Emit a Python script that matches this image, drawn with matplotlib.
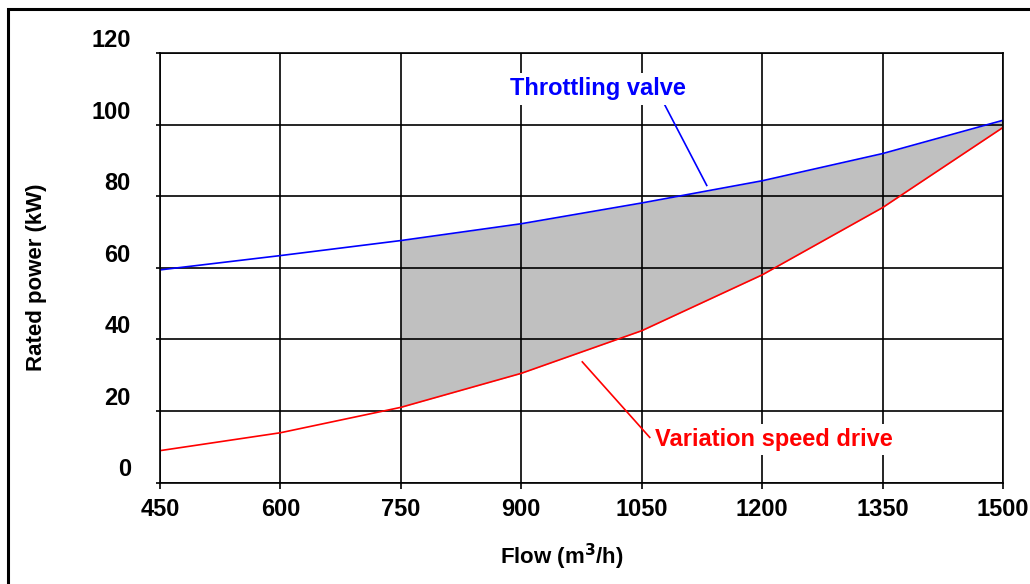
import matplotlib
matplotlib.use("Agg")
import matplotlib.pyplot as plt
import matplotlib.transforms as mtransforms
from matplotlib.patches import Rectangle

# ====== DATA ======
flow = [450, 600, 750, 900, 1050, 1200, 1350, 1500]           # m3/h
throttling = [59.4, 63.4, 67.6, 72.3, 78.1, 84.3, 91.9, 101.2]  # kW
vsd = [8.9, 13.9, 21.0, 30.5, 42.4, 58.0, 76.8, 99.2]           # kW

shade_from = 750  # savings area starts here

x_ticks = [450, 600, 750, 900, 1050, 1200, 1350, 1500]
y_ticks = [0, 20, 40, 60, 80, 100, 120]

# label text + leader line (data coords)
tv_label = "Throttling valve"
tv_text_xy = (886, 110)
tv_leader_x = [1078, 1131]
tv_leader_y = [105.8, 83.0]

vsd_label = "Variation speed drive"
vsd_text_xy = (1067, 12.0)
vsd_leader_x = [976, 1060]
vsd_leader_y = [33.7, 12.6]

FONT = "Liberation Sans"
plt.rcParams["font.family"] = [FONT, "DejaVu Sans"]

fig = plt.figure(figsize=(10.30, 5.84), dpi=100)
ax = fig.add_axes([160 / 1030, 1 - 482.5 / 584, 843 / 1030, 429.5 / 584])

# shaded savings area between the two curves
xs = [x for x in flow if x >= shade_from]
top = [t for x, t in zip(flow, throttling) if x >= shade_from]
bot = [v for x, v in zip(flow, vsd) if x >= shade_from]
ax.fill_between(xs, bot, top, color="#c0c0c0", lw=0, zorder=1)

ax.plot(flow, throttling, color="#0000ff", lw=1.2, zorder=3)
ax.plot(flow, vsd, color="#ff0000", lw=1.2, zorder=3)

ax.set_xlim(450, 1500)
ax.set_ylim(0, 120)
ax.set_xticks(x_ticks)
ax.set_yticks(y_ticks)
ax.grid(True, color="black", lw=1.2, zorder=2)
ax.set_axisbelow(False)
for s in ax.spines.values():
    s.set_linewidth(1.2)
    s.set_zorder(4)

ax.tick_params(axis="y", length=3, width=1.2, pad=18, labelsize=17)
ax.tick_params(axis="x", length=4, width=1.2, pad=7, labelsize=17)
for lab in ax.get_xticklabels() + ax.get_yticklabels():
    lab.set_fontweight("bold")

# y labels sit a bit above their gridlines in the original
shift = mtransforms.ScaledTranslation(0, 15 / 100, fig.dpi_scale_trans)
for lab in ax.get_yticklabels():
    lab.set_transform(lab.get_transform() + shift)

# curve labels with leader lines
ax.plot(tv_leader_x, tv_leader_y, color="#0000ff", lw=1.2, zorder=3)
ax.text(tv_text_xy[0], tv_text_xy[1], tv_label, color="#0000ff", fontsize=17,
        fontweight="bold", va="center", ha="left", zorder=5,
        bbox=dict(facecolor="white", edgecolor="none", pad=3))
ax.plot(vsd_leader_x, vsd_leader_y, color="#ff0000", lw=1.2, zorder=3)
ax.text(vsd_text_xy[0], vsd_text_xy[1], vsd_label, color="#ff0000", fontsize=17,
        fontweight="bold", va="center", ha="left", zorder=5,
        bbox=dict(facecolor="white", edgecolor="none", pad=3))

fig.text(37 / 1030, 1 - 277 / 584, "Rated power (kW)", rotation=90,
         ha="center", va="center", fontsize=16, fontweight="bold")
fig.text(562 / 1030, 1 - 557 / 584, "Flow (m$^{\\mathbf{3}}$/h)",
         ha="center", va="center", fontsize=16, fontweight="bold")

# outer frame (runs off the right/bottom edge in the original)
fig.add_artist(Rectangle((8 / 1030, -0.2), 1.5, 1.2 - 9 / 584,
                         transform=fig.transFigure, fill=False,
                         lw=2.2, edgecolor="black", clip_on=False))

plt.savefig("out.png", dpi=100)
